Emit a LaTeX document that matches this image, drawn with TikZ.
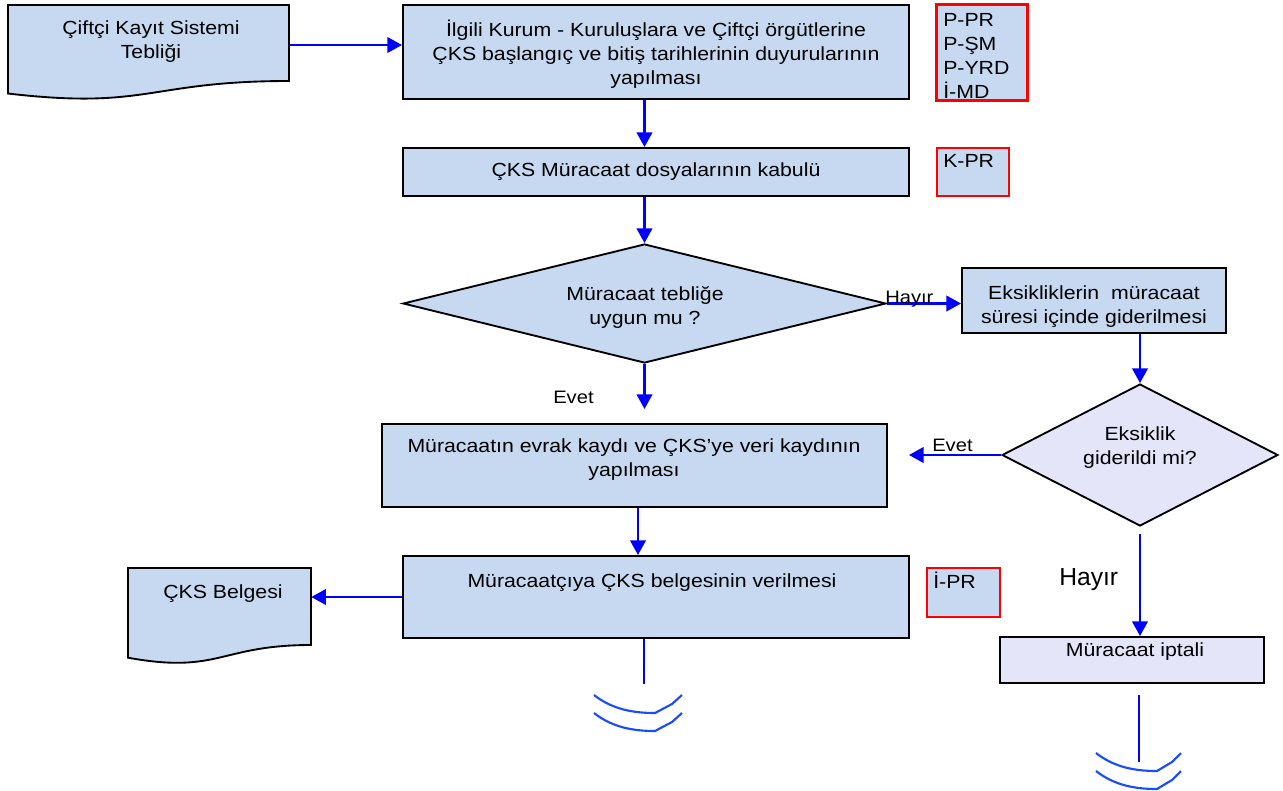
\documentclass[tikz,border=0pt]{standalone}
\usepackage{fontspec}
\setmainfont{Liberation Sans}[FakeStretch=1.12]
\newfontfamily\plainarial{Liberation Sans}
\usetikzlibrary{shapes.geometric,arrows.meta}
\definecolor{boxblue}{RGB}{198,217,241}
\definecolor{lav}{RGB}{229,229,250}
\definecolor{arcblue}{RGB}{25,75,255}
\begin{document}
\begin{tikzpicture}[x=0.75pt,y=-0.75pt,
  box/.style={draw=black,line width=1.4pt,fill=boxblue,rectangle,inner sep=0pt,align=center,
    font=\fontsize{14.25}{18}\selectfont},
  lbox/.style={box,fill=lav},
  rbox/.style={draw=red,line width=1.4pt,fill=boxblue,rectangle,inner sep=0pt},
  dia/.style={diamond,draw=black,line width=1.4pt,fill=boxblue,inner sep=0pt,align=center,
    font=\fontsize{14.25}{18}\selectfont},
  txt/.style={inner sep=0pt,align=center,font=\fontsize{14.25}{18}\selectfont},
  lbl/.style={inner sep=0pt,font=\fontsize{13.5}{16}\selectfont},
  flow/.style={draw=blue,line width=2.1pt,-{Triangle[length=11pt,width=11.5pt]}},
  plainline/.style={draw=blue,line width=2pt},
  arcline/.style={draw=arcblue,line width=1.6pt,line join=round}]
\useasboundingbox (0,0) rectangle (1283,790);

% document shapes (anchor nodes + drawn outline)
\node[inner sep=0pt,minimum width=210.75pt,minimum height=57pt] (doc1) at (148.5,45) {};
\path[box] (8,5) -- (289,5) -- (289,81) .. controls (148.5,81) and (148.5,110) .. (8,93.5) -- cycle;
\node[txt] (t0) at (151,42) {Çiftçi Kayıt Sistemi\\Tebliği};

\node[inner sep=0pt,minimum width=137.25pt,minimum height=57.75pt] (doc2) at (219.5,606.5) {};
\path[box] (128,568) -- (311,568) -- (311,645) .. controls (219.5,645) and (219.5,674.3) .. (128,657.7) -- cycle;
\node[txt,anchor=base] (t7) at (223,598) {ÇKS Belgesi};

% main boxes
\node[box,minimum width=379.5pt,minimum height=70.5pt] (box1) at (656,52) {};
\node[txt] (t1) at (656,54)
  {İlgili Kurum - Kuruluşlara ve Çiftçi örgütlerine\\ÇKS başlangıç ve bitiş tarihlerinin duyurularının\\yapılması};
\node[box,minimum width=379.5pt,minimum height=36pt] (box2) at (656,172) {ÇKS Müracaat dosyalarının kabulü};
\node[dia,minimum width=362.25pt,minimum height=89.25pt,shape aspect=4] (d1) at (644.5,303.5) {};
\node[txt] (td1) at (645,307.5) {Müracaat tebliğe\\uygun mu ?};
\node[box,minimum width=198pt,minimum height=48.75pt] (box3) at (1094,300.5) {};
\node[txt] (t3) at (1094,306.5) {Eksikliklerin~ müracaat\\süresi içinde giderilmesi};
\node[dia,fill=lav,minimum width=207pt,minimum height=106.5pt,shape aspect=2] (d2) at (1140,455) {};
\node[txt] (td2) at (1140,448) {Eksiklik\\giderildi mi?};
\node[box,minimum width=378.75pt,minimum height=62.25pt] (box4) at (634.5,465.5) {};
\node[txt] (t4) at (634,460) {Müracaatın evrak kaydı ve ÇKS’ye veri kaydının\\yapılması};
\node[box,minimum width=379.5pt,minimum height=61.5pt] (box5) at (656,597) {};
\node[txt,anchor=base] (t5) at (652,587) {Müracaatçıya ÇKS belgesinin verilmesi};
\node[lbox,minimum width=198pt,minimum height=34.5pt] (box6) at (1132,660) {};
\node[txt,anchor=base] (t6) at (1135,656) {Müracaat iptali};

% red responsibility boxes
\node[rbox,minimum width=67.5pt,minimum height=71.25pt] (red1) at (982,52.5) {};
\node[txt,align=left,anchor=north west] (r1) at (943,13.4) {P-PR\\P-ŞM\\P-YRD\\İ-MD};
\draw[draw=red,line width=1.4pt] (red1.north west) rectangle (red1.south east);
\node[rbox,minimum width=54pt,minimum height=36pt] (red2) at (973,172) {};
\node[txt,anchor=base west] (r2) at (943,167) {K-PR};
\node[rbox,minimum width=54.75pt,minimum height=36.75pt] (red3) at (963.5,592.5) {};
\node[txt,anchor=base west] (r3) at (933,588) {İ-PR};

% connectors
\coordinate (c45) at (638,500);
\coordinate (cb5) at (644,684);
\coordinate (cb6a) at (1139,695);
\coordinate (cb6b) at (1139,762);
\draw[flow] (doc1.east) -- (doc1.east -| box1.west);
\draw[flow] (box1.south -| d1.north) -- (box2.north -| d1.north);
\draw[flow] (box2.south -| d1.north) -- (d1.north);
\draw[flow] (d1.east) -- (d1.east -| box3.west);
\draw[flow,shorten >=10.5pt] (d1.south) -- (d1.south |- box4.north);
\draw[flow] (box3.south -| d2.north) -- (d2.north);
\draw[flow,shorten >=15.75pt] (d2.west) -- (d2.west -| box4.east);
\draw[flow,shorten <=5.25pt] (d2.south) -- (d2.south |- box6.north);
\draw[flow] (box4.south -| c45) -- (box5.north -| c45);
\draw[flow] (box5.west) -- (box5.west -| doc2.east);
\draw[plainline] (box5.south -| cb5) -- (cb5);
\draw[plainline] (cb6a) -- (cb6b);

% off-page marks
\draw[arcline] (594,695) .. controls (612,709) and (632,713) .. (655,713) -- (672,704) -- (682,695);
\draw[arcline] (594,713) .. controls (612,727) and (632,731) .. (655,731) -- (672,722) -- (682,713);
\draw[arcline] (1096,753) .. controls (1114,767) and (1134,771) .. (1157,771) -- (1172,762) -- (1181,753);
\draw[arcline] (1096,771) .. controls (1114,785) and (1134,789) .. (1157,789) -- (1172,780) -- (1181,771);

% labels
\node[lbl,anchor=base west] (lh1) at (885,303) {Hayır};
\node[lbl,anchor=base west] (le1) at (553,403) {Evet};
\node[lbl,anchor=base west] (le2) at (932,451) {Evet};
\node[inner sep=0pt,font=\plainarial\fontsize{18.5}{20}\selectfont,anchor=base west] (lh2) at (1059,585) {Hayır};
\end{tikzpicture}
\end{document}
